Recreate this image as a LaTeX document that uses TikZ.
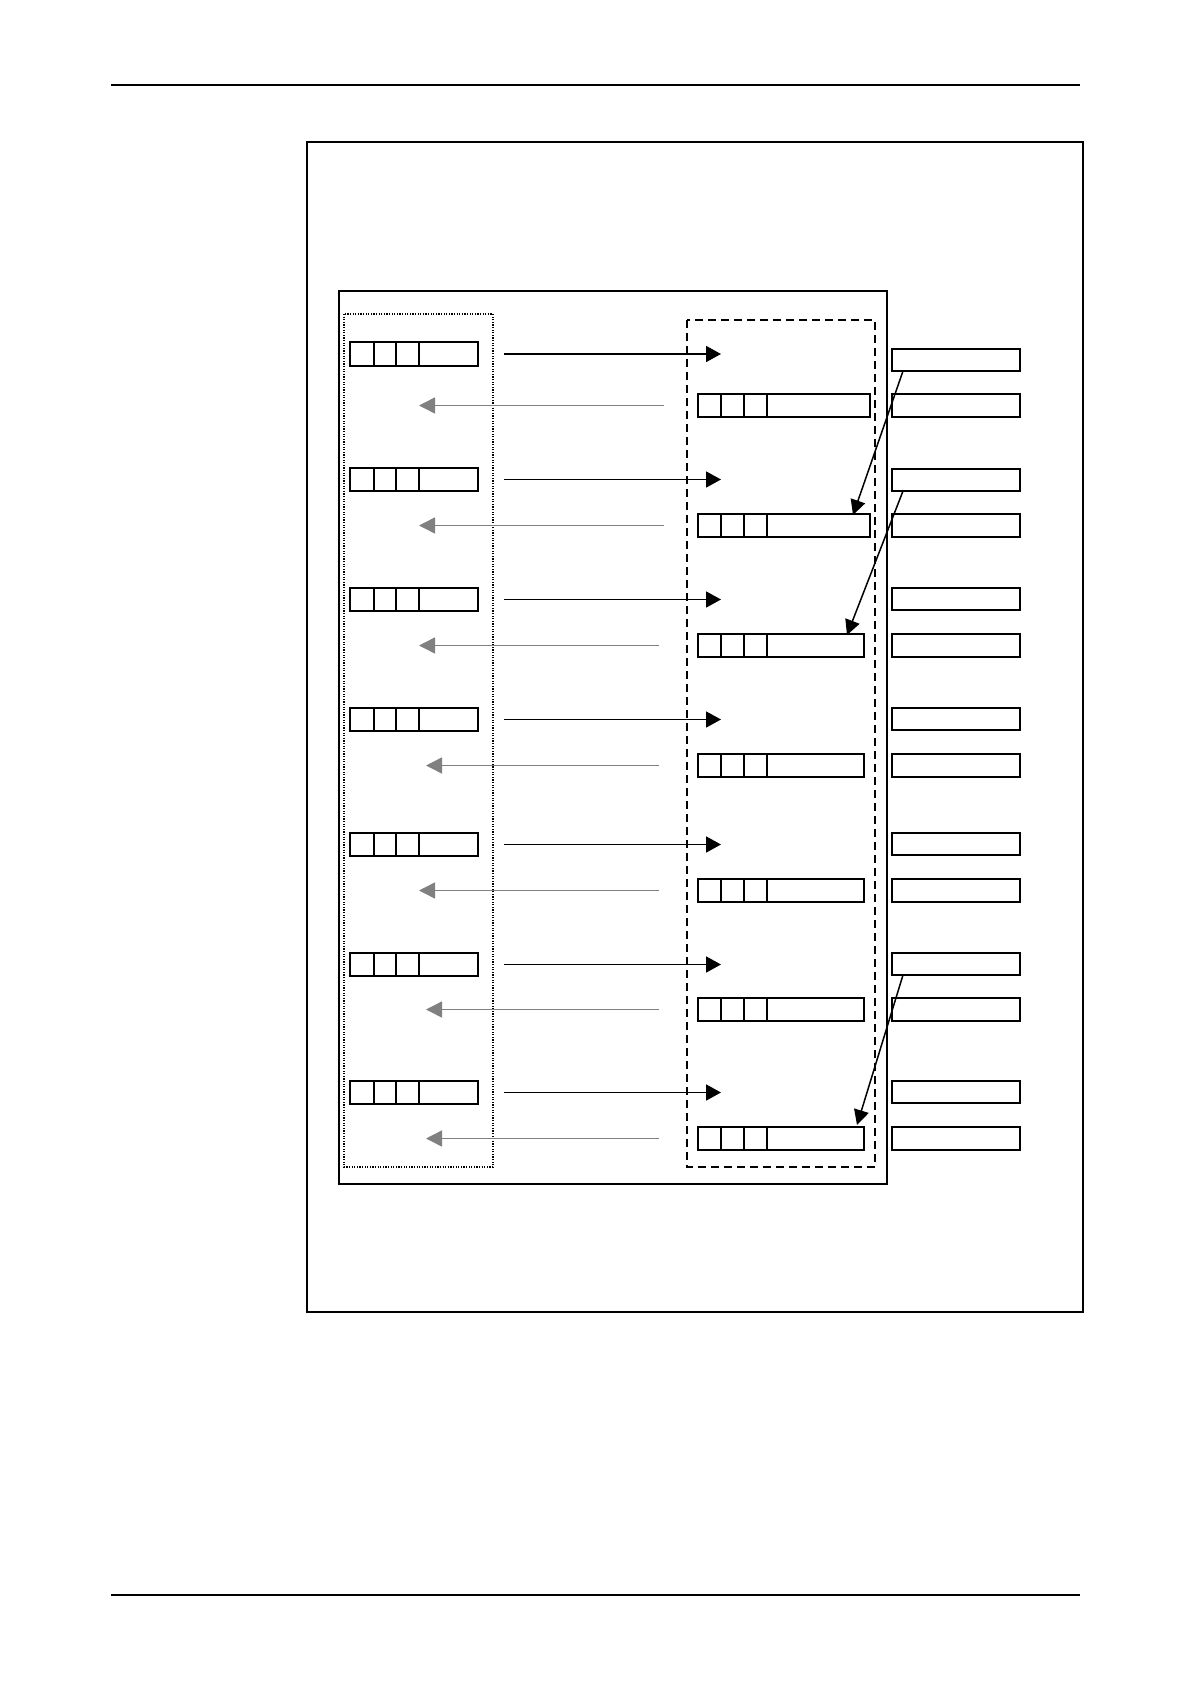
\documentclass[tikz,border=0pt]{standalone}
\usetikzlibrary{arrows.meta,calc}
\begin{document}
\begin{tikzpicture}[x=0.5pt,y=-0.5pt,
  regbox/.style={draw, line width=0.95pt, inner sep=0pt, outer sep=0pt, anchor=north west},
  divline/.style={line width=0.95pt},
  frame/.style={draw, line width=0.75pt},
  blkarrow/.style={line width=0.9pt, -{Triangle[length=7.5pt,width=8pt]}},
  gryarrow/.style={draw=gray, line width=0.75pt, -{Triangle[length=8pt,width=8pt,fill=gray]}},
  diagarrow/.style={line width=0.75pt, -{Triangle[length=7.5pt,width=7.5pt]}}]
\useasboundingbox (0,0) rectangle (1190,1684);
% page rules
\draw[line width=0.6pt] (111,85) -- (1080,85);
\draw[line width=1.3pt] (111,1595) -- (1080,1595);
% frames
\draw[frame] (307,142) rectangle (1083,1312);
\draw[frame, line width=0.85pt] (339,291) rectangle (887,1184);
\draw[line width=0.8pt, dash pattern=on 0.6pt off 0.7pt] (344,314) rectangle (493,1167);
\draw[line width=0.75pt, dash pattern=on 4pt off 2.5pt] (687,320) rectangle (875,1167);
% groups
\foreach \i/\ly/\lh/\ry/\my/\gs/\gt/\mw in {
  1/342/24/349/394/664/419/86,
  2/468/23/469/514/664/419/86,
  3/588/23/588/634/659/419/83,
  4/708/23/708/754/659/426/83,
  5/833/23/833/879/659/419/83,
  6/953/23/953/998/659/426/83,
  7/1081/23/1081/1127/659/426/83}{
  \node[regbox, minimum width=64pt, minimum height=\lh*0.5pt] (L\i) at (350,\ly) {};
  \node[regbox, minimum width=\mw pt, minimum height=11.5pt] (M\i) at (698,\my) {};
  \node[regbox, minimum width=64pt, minimum height=11pt] (R\i) at (892,\ry) {};
  \node[regbox, minimum width=64pt, minimum height=11.5pt] (S\i) at (892,\my) {};
  \foreach \d in {24,46,69}{
    \draw[divline] ($(L\i.north west)+(\d,0)$) -- ($(L\i.south west)+(\d,0)$);
  }
  \foreach \d in {23,46,69}{
    \draw[divline] ($(M\i.north west)+(\d,0)$) -- ($(M\i.south west)+(\d,0)$);
  }
  \coordinate (T\i) at (721,{\ly+\lh/2});
  \coordinate (G\i) at (\gt,{\my+11.5});
  \draw[blkarrow] ($(L\i.east)+(26,0)$) -- (T\i);
  \draw[gryarrow] (\gs,{\my+11.5}) -- (G\i);
}
% diagonal links
\draw[diagarrow] ($(R1.south west)+(11,0)$) -- ($(M2.north east)+(-17,1)$);
\draw[diagarrow] ($(R2.south west)+(11,0)$) -- ($(M3.north east)+(-17,1)$);
\draw[diagarrow] ($(R6.south west)+(11,0)$) -- ($(M7.north east)+(-7,-2)$);
\end{tikzpicture}
\end{document}
